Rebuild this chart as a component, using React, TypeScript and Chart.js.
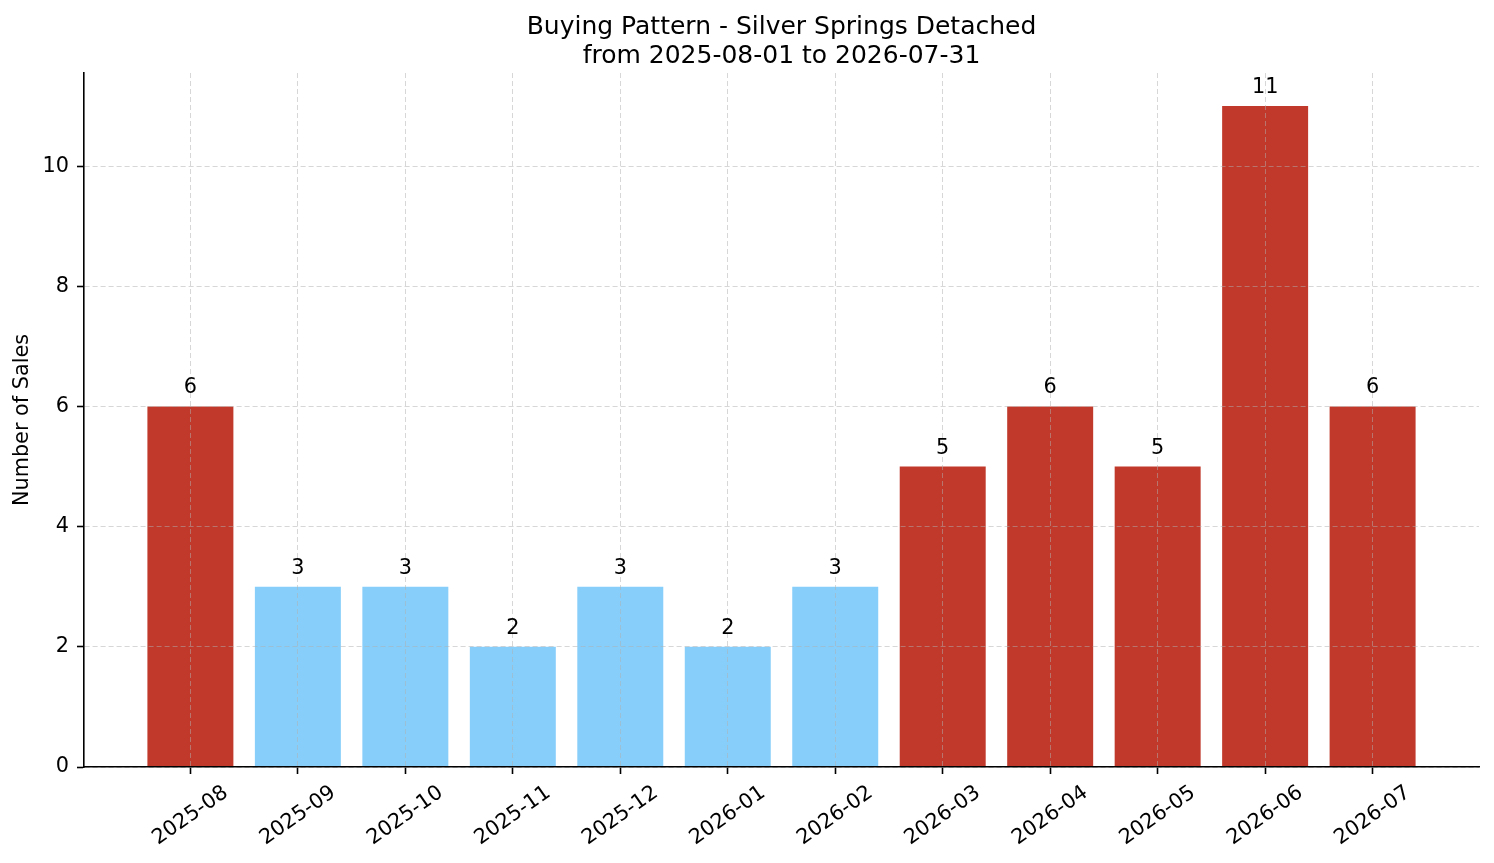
import { useEffect, useRef } from "react";
import { Chart, registerables } from "chart.js";

Chart.register(...registerables);

const months = [
  "2025-08", "2025-09", "2025-10", "2025-11", "2025-12", "2026-01",
  "2026-02", "2026-03", "2026-04", "2026-05", "2026-06", "2026-07",
];
const sales = [6, 3, 3, 2, 3, 2, 3, 5, 6, 5, 11, 6];
const yTicks = [0, 2, 4, 6, 8, 10];
const titleLines = ["Buying Pattern - Silver Springs Detached", "from 2025-08-01 to 2026-07-31"];
const yAxisLabel = "Number of Sales";

const FONT = '"DejaVu Sans", sans-serif';
const HIGH = "#c0392b";
const LOW = "#87cefa";
const GRID = "rgba(176,176,176,0.5)";

// months above the average get the warm colour
const average = sales.reduce((a, b) => a + b, 0) / sales.length;
const barColors = sales.map((v) => (v > average ? HIGH : LOW));

const annotations = {
  id: "annotations",
  afterDraw(chart: Chart) {
    const { ctx, chartArea, scales } = chart;
    const x = scales.x;
    const y = scales.y;
    ctx.save();
    ctx.fillStyle = "#000";
    ctx.textAlign = "center";

    // title
    ctx.font = `25px ${FONT}`;
    ctx.textBaseline = "alphabetic";
    const cx = (chartArea.left + chartArea.right) / 2;
    ctx.fillText(titleLines[0], cx, 34);
    ctx.fillText(titleLines[1], cx, 63);

    // values above bars
    ctx.font = `20.8px ${FONT}`;
    sales.forEach((v, i) => {
      ctx.fillText(String(v), x.getPixelForValue(i), y.getPixelForValue(v) - 13);
    });

    // rotated month labels, centred under each tick
    const angle = (35 * Math.PI) / 180;
    months.forEach((m, i) => {
      const w = ctx.measureText(m).width;
      const h = 24;
      const boxH = w * Math.sin(angle) + h * Math.cos(angle);
      ctx.save();
      ctx.translate(x.getPixelForValue(i), chartArea.bottom + 14 + boxH / 2);
      ctx.rotate(-angle);
      ctx.textBaseline = "middle";
      ctx.fillText(m, 0, 0);
      ctx.restore();
    });

    // y axis title
    ctx.save();
    ctx.translate(23, (chartArea.top + chartArea.bottom) / 2);
    ctx.rotate(-Math.PI / 2);
    ctx.textBaseline = "middle";
    ctx.fillText(yAxisLabel, 0, 0);
    ctx.restore();

    ctx.restore();
  },
};

export default function App() {
  const canvasRef = useRef<HTMLCanvasElement>(null);

  useEffect(() => {
    document.body.style.margin = "0";
    if (!canvasRef.current) return;

    const chart = new Chart(canvasRef.current, {
      type: "bar",
      data: {
        datasets: [
          {
            data: sales.map((v, i) => ({ x: i, y: v })),
            backgroundColor: barColors,
            barPercentage: 1,
            categoryPercentage: 0.8,
          },
        ],
      },
      options: {
        animation: false,
        responsive: true,
        maintainAspectRatio: false,
        layout: { padding: { top: 73, right: 15, left: 0, bottom: 0 } },
        plugins: {
          legend: { display: false },
          tooltip: { enabled: false },
        },
        scales: {
          x: {
            type: "linear",
            min: -0.99,
            max: 11.99,
            offset: false,
            afterBuildTicks: (s: any) => {
              s.ticks = months.map((_, i) => ({ value: i }));
            },
            afterFit: (s: any) => {
              s.height = 96;
            },
            ticks: { display: false },
            grid: {
              offset: false,
              color: GRID,
              lineWidth: 1,
              z: 1,
              drawTicks: true,
              tickLength: 7,
              tickColor: "#000",
              tickWidth: 1.6,
              tickBorderDash: [],
            },
            border: { display: true, color: "#000", width: 1.6, dash: [5, 3], z: 2 },
          },
          y: {
            min: 0,
            max: 11.55,
            afterBuildTicks: (s: any) => {
              s.ticks = yTicks.map((v) => ({ value: v }));
            },
            afterFit: (s: any) => {
              s.width = 84;
            },
            ticks: {
              color: "#000",
              padding: 8,
              font: { family: FONT, size: 20.8 },
            },
            grid: {
              color: GRID,
              lineWidth: 1,
              z: 1,
              drawTicks: true,
              tickLength: 7,
              tickColor: "#000",
              tickWidth: 1.6,
              tickBorderDash: [],
            },
            border: { display: true, color: "#000", width: 1.6, dash: [5, 3], z: 2 },
          },
        },
      },
      plugins: [annotations],
    });

    return () => {
      chart.destroy();
    };
  }, []);

  return (
    <div style={{ width: 1494, height: 863, position: "relative" }}>
      <canvas ref={canvasRef} />
    </div>
  );
}
